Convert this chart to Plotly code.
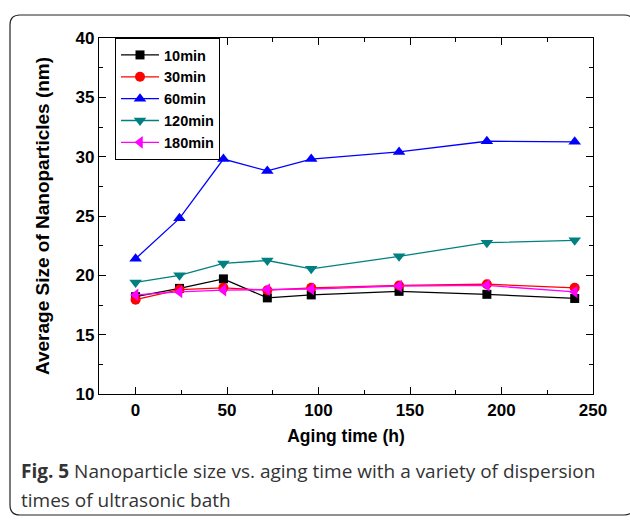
import plotly.graph_objects as go

hours = [0, 24, 48, 72, 96, 144, 192, 240]
size_10min = [18.2, 18.9, 19.7, 18.1, 18.35, 18.65, 18.4, 18.05]
size_30min = [17.95, 18.8, 18.95, 18.75, 18.95, 19.15, 19.25, 18.95]
size_60min = [21.4, 24.8, 29.8, 28.8, 29.8, 30.4, 31.3, 31.25]
size_120min = [19.4, 20.0, 21.0, 21.25, 20.55, 21.6, 22.75, 22.95]
size_180min = [18.35, 18.6, 18.75, 18.8, 18.85, 19.1, 19.15, 18.6]

series = [
    ("10min", size_10min, "#000000", "square", 9),
    ("30min", size_30min, "#ff0000", "circle", 10),
    ("60min", size_60min, "#0000ff", "triangle-up", 11),
    ("120min", size_120min, "#008080", "triangle-down", 11),
    ("180min", size_180min, "#ff00ff", "triangle-left", 11),
]

fig = go.Figure()
for name, vals, color, sym, sz in series:
    fig.add_trace(go.Scatter(
        x=hours, y=vals, name=name, mode="lines+markers",
        line=dict(color=color, width=1.3),
        marker=dict(symbol=sym, size=sz, color=color, line=dict(width=0)),
    ))

W, H = 630, 520
L, R, T, B = 99, 37, 38, 126
pw, ph = W - L - R, H - T - B

def px(x):
    return (x - L) / pw

def py(y):
    return (H - B - y) / ph

# rounded border around the figure panel
x0, x1, y0, y1 = px(10), px(634), py(515), py(15)
rx, ry = 10 / pw, 10 / ph
path = (f"M{x0+rx},{y1} L{x1-rx},{y1} Q{x1},{y1} {x1},{y1-ry} "
        f"L{x1},{y0+ry} Q{x1},{y0} {x1-rx},{y0} L{x0+rx},{y0} "
        f"Q{x0},{y0} {x0},{y0+ry} L{x0},{y1-ry} Q{x0},{y1} {x0+rx},{y1} Z")
fig.add_shape(type="path", path=path, xref="paper", yref="paper",
              line=dict(color="#222222", width=1.2), layer="below")

fam = "Liberation Sans, Arial"
fig.update_layout(
    width=W, height=H,
    margin=dict(l=L, r=R, t=T, b=B),
    paper_bgcolor="white", plot_bgcolor="white",
    showlegend=True,
    legend=dict(
        x=px(115), y=py(38), xanchor="left", yanchor="top",
        bordercolor="black", borderwidth=1, bgcolor="white",
        font=dict(family=fam, size=14.5, color="black", weight="bold"),
        tracegroupgap=0, itemwidth=38,
    ),
    xaxis=dict(
        range=[-20, 250], tickvals=[0, 50, 100, 150, 200, 250],
        ticks="inside", ticklen=7, tickwidth=1.2, tickcolor="black",
        minor=dict(dtick=25, tick0=0, ticks="inside", ticklen=4, tickcolor="black", tickwidth=1.2),
        showline=True, linecolor="black", linewidth=1.3, mirror="allticks",
        showgrid=False, zeroline=False,
        tickfont=dict(family=fam, size=17, color="black", weight="bold"),
        title=dict(text="<b>Aging time (h)</b>", font=dict(family=fam, size=17.5, color="black"), standoff=11),
    ),
    yaxis=dict(
        range=[10, 40], dtick=5,
        ticks="inside", ticklen=7, tickwidth=1.2, tickcolor="black",
        minor=dict(dtick=2.5, tick0=0, ticks="inside", ticklen=4, tickcolor="black", tickwidth=1.2),
        showline=True, linecolor="black", linewidth=1.3, mirror="allticks",
        showgrid=False, zeroline=False,
        tickfont=dict(family=fam, size=17, color="black", weight="bold"),
        title=dict(text="<b>Average Size of Nanoparticles (nm)</b>", font=dict(family=fam, size=19, color="black"), standoff=20),
    ),
)

cap_font = dict(family="Open Sans", size=19, color="#333333")
fig.add_annotation(xref="paper", yref="paper", x=px(19), y=py(471),
                   xanchor="left", yanchor="middle", showarrow=False,
                   text="<b>Fig. 5</b> Nanoparticle size vs. aging time with a variety of dispersion",
                   font=cap_font)
fig.add_annotation(xref="paper", yref="paper", x=px(19), y=py(500),
                   xanchor="left", yanchor="middle", showarrow=False,
                   text="times of ultrasonic bath", font=cap_font)

fig.write_html("out.html")
